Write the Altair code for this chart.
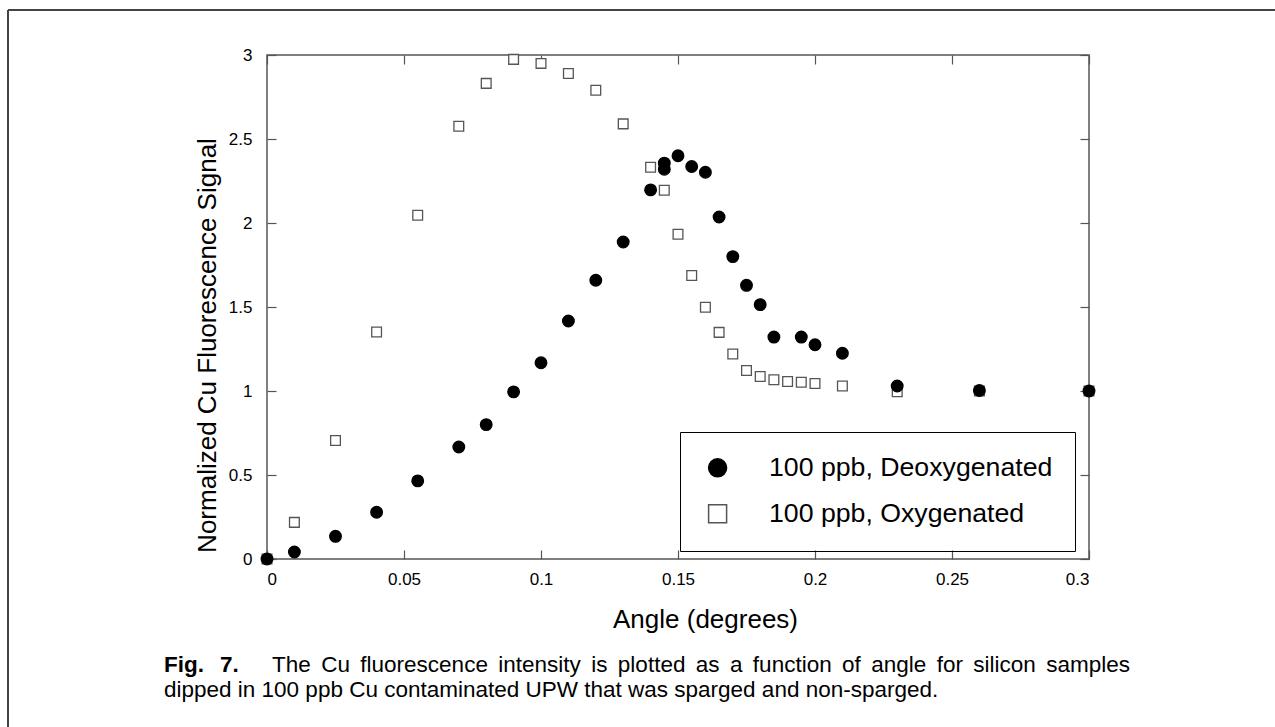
import altair as alt
import pandas as pd

# ---------------- data ----------------
series_names = ["100 ppb, Deoxygenated", "100 ppb, Oxygenated"]

angle_deox = [0, 0.01, 0.025, 0.04, 0.055, 0.07, 0.08, 0.09, 0.1, 0.11, 0.12, 0.13,
              0.14, 0.145, 0.145, 0.15, 0.155, 0.16, 0.165, 0.17, 0.175, 0.18, 0.185,
              0.195, 0.2, 0.21, 0.23, 0.26, 0.3]
signal_deox = [0, 0.042, 0.135, 0.278, 0.465, 0.667, 0.80, 0.995, 1.168, 1.417, 1.659, 1.887,
               2.197, 2.356, 2.32, 2.40, 2.336, 2.302, 2.036, 1.80, 1.629, 1.514, 1.321,
               1.321, 1.275, 1.225, 1.03, 1.003, 1.0]

angle_ox = [0, 0.01, 0.025, 0.04, 0.055, 0.07, 0.08, 0.09, 0.1, 0.11, 0.12, 0.13,
            0.14, 0.145, 0.15, 0.155, 0.16, 0.165, 0.17, 0.175, 0.18, 0.185, 0.19,
            0.195, 0.2, 0.21, 0.23, 0.26, 0.3]
signal_ox = [0, 0.218, 0.705, 1.351, 2.046, 2.576, 2.831, 2.974, 2.95, 2.89, 2.79, 2.59,
             2.332, 2.195, 1.933, 1.687, 1.498, 1.349, 1.22, 1.122, 1.086, 1.067, 1.057,
             1.052, 1.045, 1.03, 0.995, 1.0, 1.0]

x_ticks = [0, 0.05, 0.1, 0.15, 0.2, 0.25, 0.3]
y_ticks = [0, 0.5, 1, 1.5, 2, 2.5, 3]

x_title = "Angle (degrees)"
y_title = "Normalized Cu Fluorescence Signal"
caption_bold = ["Fig.", "7."]
caption_lines = [
    "The Cu fluorescence intensity is plotted as a function of angle for silicon samples",
    "dipped in 100 ppb Cu contaminated UPW that was sparged and non-sparged.",
]

# ---------------- layout ----------------
W, H = 822, 504
PAD_L, PAD_T = 267, 55
PAD_R = 1275 - PAD_L - W
PAD_B = 727 - PAD_T - H
FONT = "Liberation Sans"
AX = "#555555"
CAP_SIZE = 22.5

df_ox = pd.DataFrame({"angle": angle_ox, "signal": signal_ox, "series": series_names[1]})
df_deox = pd.DataFrame({"angle": angle_deox, "signal": signal_deox, "series": series_names[0]})
df_all = pd.concat([df_ox, df_deox], ignore_index=True)

xs = alt.Scale(domain=[0, 0.3], nice=False, zero=False)
ys = alt.Scale(domain=[0, 3], nice=False, zero=False)

legend = alt.Legend(
    title=None, orient="none", legendX=413, legendY=377,
    strokeColor="black", padding=22.5, rowPadding=18,
    labelFont=FONT, labelFontSize=26.7, labelColor="black", labelLimit=0,
    symbolSize=324, symbolStrokeWidth=1.5, symbolOffset=1.75, labelOffset=38,
)

x_main = alt.X("angle:Q", scale=xs, axis=alt.Axis(
    orient="bottom", values=x_ticks, format="~g", ticks=False, tickSize=0, domain=False,
    grid=False, labelFont=FONT, labelFontSize=17, labelColor="black", labelPadding=12,
    title=x_title, titleFont=FONT, titleFontSize=26, titleFontWeight="normal",
    titleColor="black", titleX=438, titleY=68, titleAlign="center", titleBaseline="alphabetic"))
y_main = alt.Y("signal:Q", scale=ys, axis=alt.Axis(
    orient="left", values=y_ticks, format="~g", ticks=False, tickSize=0, domain=False,
    grid=False, labelFont=FONT, labelFontSize=17, labelColor="black", labelPadding=15,
    title=y_title, titleFont=FONT, titleFontSize=26, titleFontWeight="normal",
    titleColor="black", titleX=-60, titleY=290, titleAlign="center",
    titleBaseline="middle", titleAngle=270))


def series_enc():
    return dict(
        shape=alt.Shape("series:N", scale=alt.Scale(domain=series_names, range=["circle", "square"]),
                        legend=legend),
        fill=alt.Fill("series:N", scale=alt.Scale(domain=series_names, range=["black", "white"]),
                      legend=legend),
        stroke=alt.Stroke("series:N", scale=alt.Scale(domain=series_names, range=["black", "#555555"]),
                          legend=legend),
    )


squares = alt.Chart(df_ox).mark_point(opacity=1, strokeWidth=1.3, size=95).encode(
    x=x_main, y=y_main, **series_enc())
circles = alt.Chart(df_deox).mark_point(opacity=1, strokeWidth=1.3, size=135).encode(
    x=alt.X("angle:Q", scale=xs, axis=None), y=alt.Y("signal:Q", scale=ys, axis=None), **series_enc())

tick_axis = dict(labels=False, domain=False, grid=False, ticks=True,
                 tickSize=9, tickColor=AX, tickWidth=1.2, title=None)

ticks_a = alt.Chart(df_all).mark_point(opacity=0).encode(
    x=alt.X("angle:Q", scale=xs, axis=alt.Axis(orient="top", offset=-H, values=x_ticks, **tick_axis)),
    y=alt.Y("signal:Q", scale=ys, axis=alt.Axis(orient="right", offset=-W, values=y_ticks, **tick_axis)),
)
ticks_b = alt.Chart(df_all).mark_point(opacity=0).encode(
    x=alt.X("angle:Q", scale=xs, axis=alt.Axis(orient="bottom", offset=-H, values=x_ticks, **tick_axis)),
    y=alt.Y("signal:Q", scale=ys, axis=alt.Axis(orient="left", offset=-W, values=y_ticks, **tick_axis)),
)

one = pd.DataFrame({"k": [0]})
border_top = alt.Chart(one).mark_rule(color="#444444", strokeWidth=2).encode(
    x=alt.value(8 - PAD_L), x2=alt.value(1275 - PAD_L), y=alt.value(10 - PAD_T))
border_left = alt.Chart(one).mark_rule(color="#444444", strokeWidth=2).encode(
    x=alt.value(8 - PAD_L), y=alt.value(10 - PAD_T), y2=alt.value(727 - PAD_T))

# ---- caption (first line justified like the typeset original) ----
ARIAL = {" ": 278, "a": 556, "b": 556, "c": 500, "d": 556, "e": 556, "f": 278, "g": 556,
         "h": 556, "i": 222, "l": 222, "m": 833, "n": 556, "o": 556, "p": 556, "r": 333,
         "s": 500, "t": 278, "u": 556, "y": 500, "C": 722, "T": 611}


def text_width(s, size):
    return sum(ARIAL.get(ch, 556) for ch in s) * size / 1000.0


def cap_text(txt, x, y, bold=False):
    return alt.Chart(one).mark_text(
        font=FONT, fontSize=CAP_SIZE, fontWeight="bold" if bold else "normal",
        align="left", baseline="alphabetic", color="black").encode(
        x=alt.value(x - PAD_L), y=alt.value(y - PAD_T), text=alt.value(txt))


LINE1_BASE, LINE2_BASE = 672, 697
caption_layers = [cap_text(caption_bold[0], 164, LINE1_BASE, True),
                  cap_text(caption_bold[1], 220, LINE1_BASE, True)]
words = caption_lines[0].split(" ")
start, end = 272, 1130
total_words = sum(text_width(w, CAP_SIZE) for w in words)
gap = (end - start - total_words) / (len(words) - 1)
xpos = start
for w in words:
    caption_layers.append(cap_text(w, xpos, LINE1_BASE))
    xpos += text_width(w, CAP_SIZE) + gap
caption_layers.append(cap_text(caption_lines[1], 164, LINE2_BASE))

chart = alt.layer(squares, circles, ticks_a, ticks_b, border_top, border_left,
                  *caption_layers).resolve_axis(
    x="independent", y="independent"
).properties(
    width=W, height=H,
    autosize=alt.AutoSizeParams(type="none"),
    padding={"left": PAD_L, "top": PAD_T, "right": PAD_R, "bottom": PAD_B},
    background="white",
).configure_view(stroke=AX, strokeWidth=1.5)

chart.save("out.html", embed_options={"renderer": "svg", "actions": False})
